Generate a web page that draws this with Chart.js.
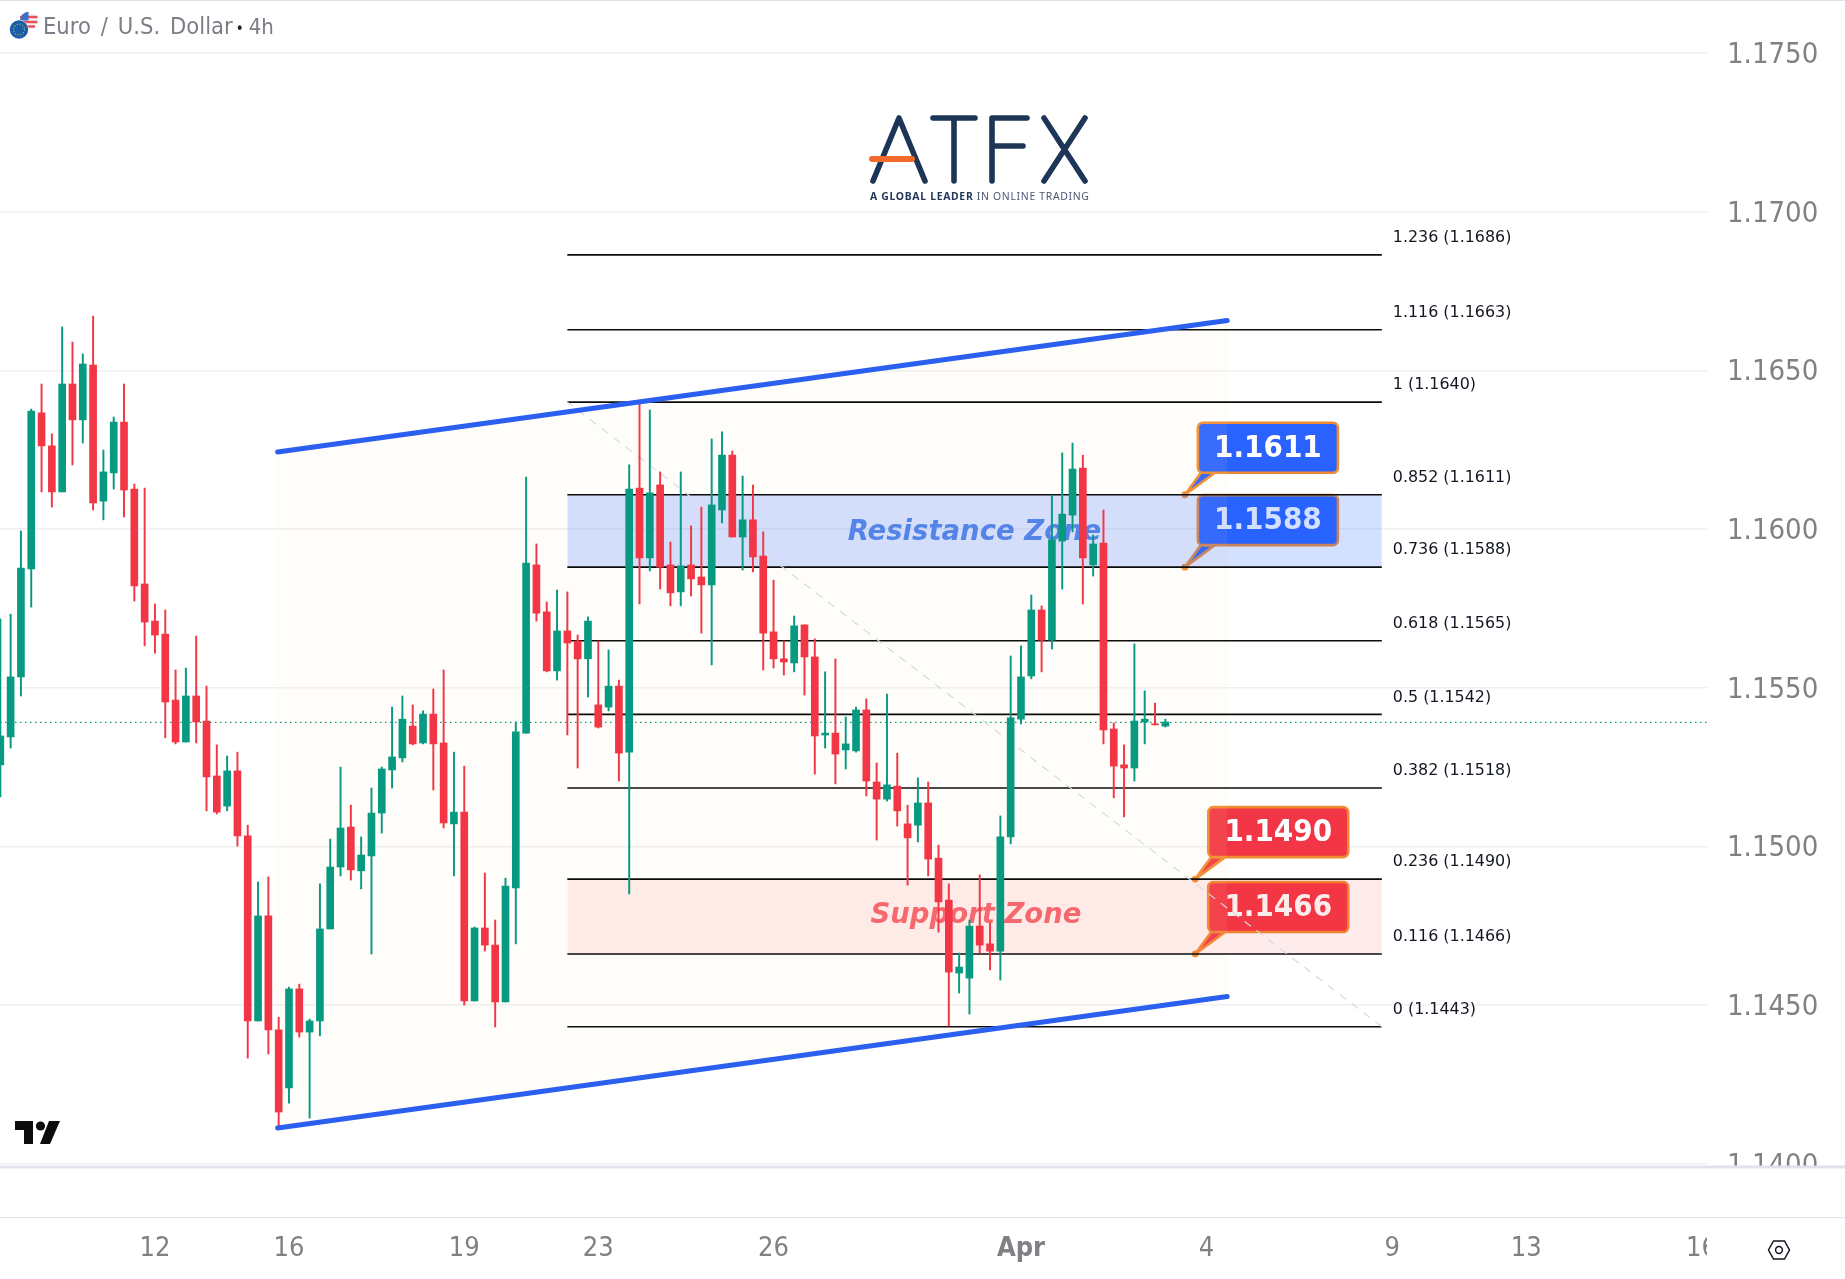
<!DOCTYPE html>
<html>
<head>
<meta charset="utf-8">
<title>Euro / U.S. Dollar 4h</title>
<script src="https://cdn.jsdelivr.net/npm/chart.js@4/dist/chart.umd.js"></script>
<style>
    html, body { margin: 0; padding: 0; background: #fff; }
    #wrap { position: relative; width: 1845px; height: 1279px; overflow: hidden; }
    #chart { position: absolute; left: 0; top: 0; }
    #title { position: absolute; left: 43px; top: 12px; font: 23.5px "DejaVu Sans Condensed", "DejaVu Sans"; word-spacing: 3.2px; color: #7b7e86; white-space: pre; }
    #title b { font-weight: normal; color: #222; font-size: 15px; margin: 0 5px 0 3px; }
    #title i { font-style: normal; font-size: 22px; }
    svg { position: absolute; left: 0; top: 0; pointer-events: none; }
    #logoSub { position: absolute; left: 870px; top: 189px; font: 10.4px "Noto Sans"; letter-spacing: 0.7px; color: #4a5670; white-space: pre; }
    #logoSub b { color: #22365a; }
</style>
</head>
<body>
<div id="wrap">
    <canvas id="chart" width="1845" height="1279"></canvas>
    <svg width="1845" height="1279">
        <circle cx="28.5" cy="20.5" r="8.8" fill="#f5f5f5"/>
        <path d="M20 17h17.5M20.5 22h17M23 26.5h12" stroke="#e8505b" stroke-width="2.4"/>
        <path d="M20 20.5 A8.8 8.8 0 0 1 28.5 11.7 V20.5 Z" fill="#3d6fc4"/>
        <circle cx="19" cy="30" r="10" fill="#fff"/>
        <circle cx="19" cy="29.5" r="9.2" fill="#1a5da8"/>
        <circle cx="19" cy="29.5" r="5.4" fill="none" stroke="#9fb35a" stroke-width="1.2" stroke-dasharray="1.2 1.6"/>

        <g fill="none" stroke="#1d3557" stroke-width="5.6" stroke-linecap="round" stroke-linejoin="round">
            <path d="M873 181 L899 118 L925 181"/>
            <path d="M933 118 H975 M954 118 V181"/>
            <path d="M992 181 V118 H1027 M992 146 H1023"/>
            <path d="M1044 118 L1085 181 M1085 118 L1044 181"/>
        </g>
        <path d="M872 159 H912" stroke="#f26b2b" stroke-width="6" stroke-linecap="round"/>

        <path d="M15 1121 H33 V1144 H24 V1130 H15 Z" fill="#0c0c0c"/>
        <circle cx="40.5" cy="1126" r="4.6" fill="#0c0c0c"/>
        <path d="M49 1121 H60 L50 1144 H40 Z" fill="#0c0c0c"/>

        <path d="M1768.5 1250 L1773.5 1241 H1784.5 L1789.5 1250 L1784.5 1259 H1773.5 Z" fill="none" stroke="#131722" stroke-width="1.5"/>
        <circle cx="1779" cy="1250" r="3.4" fill="none" stroke="#131722" stroke-width="1.5"/>
    </svg>
    <div id="title">Euro / U.S. Dollar<b>•</b><i>4h</i></div>
    <div id="logoSub"><b>A GLOBAL LEADER</b> IN ONLINE TRADING</div>
</div>
<script>
// 4h candles, oldest first
const opens = [1.15257,1.15345,1.15534,1.15874,1.16366,1.16262,1.16117,1.16457,1.16344,1.16517,1.16088,1.16177,1.16337,1.16126,1.15827,1.15710,1.15669,1.15461,1.15329,1.15474,1.15395,1.15222,1.15127,1.15238,1.15033,1.14450,1.14781,1.14422,1.14239,1.14551,1.14415,1.14450,1.14740,1.14935,1.15061,1.14923,1.14970,1.15105,1.15241,1.15279,1.15379,1.15326,1.15417,1.15326,1.15071,1.15108,1.14513,1.14743,1.14689,1.14510,1.14869,1.15357,1.15887,1.15739,1.15553,1.15679,1.15647,1.15591,1.15446,1.15439,1.15505,1.15297,1.16129,1.15909,1.16139,1.15887,1.15802,1.15887,1.15849,1.15824,1.16060,1.16233,1.15975,1.16029,1.15915,1.15676,1.15591,1.15578,1.15698,1.15597,1.15351,1.15357,1.15304,1.15301,1.15430,1.15203,1.15149,1.15190,1.15071,1.15067,1.15137,1.14963,1.14831,1.14601,1.14585,1.14749,1.14693,1.14670,1.15030,1.15401,1.15537,1.15745,1.15650,1.15962,1.16044,1.16192,1.15887,1.15956,1.15370,1.15257,1.15247,1.15392,1.15386,1.15379];
const highs = [1.15717,1.15732,1.15994,1.16378,1.16457,1.16300,1.16637,1.16589,1.16552,1.16671,1.16249,1.16353,1.16457,1.16142,1.16129,1.15764,1.15745,1.15556,1.15562,1.15663,1.15505,1.15320,1.15285,1.15297,1.15067,1.14888,1.14904,1.14462,1.14557,1.14566,1.14456,1.14882,1.15023,1.15250,1.15130,1.15030,1.15184,1.15250,1.15439,1.15474,1.15446,1.15427,1.15496,1.15556,1.15297,1.15253,1.14746,1.14916,1.14768,1.14900,1.15392,1.16164,1.15953,1.15770,1.15808,1.15802,1.15666,1.15723,1.15647,1.15619,1.15524,1.16202,1.16400,1.16375,1.16180,1.15959,1.16180,1.16010,1.16069,1.16284,1.16306,1.16246,1.16167,1.16139,1.15991,1.15839,1.15647,1.15726,1.15698,1.15654,1.15550,1.15591,1.15408,1.15439,1.15465,1.15263,1.15480,1.15294,1.15130,1.15216,1.15203,1.15004,1.14882,1.14664,1.14768,1.14910,1.14759,1.15096,1.15600,1.15632,1.15792,1.15758,1.16107,1.16240,1.16271,1.16233,1.15981,1.16060,1.15389,1.15320,1.15638,1.15490,1.15452,1.15401];
const lows = [1.15156,1.15310,1.15474,1.15754,1.16117,1.16069,1.16117,1.16202,1.16271,1.16060,1.16029,1.16126,1.16038,1.15773,1.15632,1.15609,1.15342,1.15323,1.15329,1.15326,1.15112,1.15102,1.15112,1.15001,1.14333,1.14450,1.14346,1.14116,1.14191,1.14399,1.14144,1.14403,1.14740,1.14907,1.14894,1.14866,1.14661,1.15042,1.15184,1.15266,1.15320,1.15323,1.15178,1.15058,1.14907,1.14500,1.14513,1.14670,1.14431,1.14510,1.14693,1.15357,1.15710,1.15550,1.15524,1.15351,1.15247,1.15471,1.15373,1.15427,1.15206,1.14850,1.15764,1.15868,1.15811,1.15758,1.15758,1.15789,1.15672,1.15572,1.16019,1.15975,1.15871,1.15865,1.15556,1.15562,1.15540,1.15550,1.15477,1.15228,1.15310,1.15197,1.15244,1.15297,1.15159,1.15020,1.15143,1.15064,1.14878,1.15014,1.14907,1.14730,1.14434,1.14538,1.14472,1.14664,1.14611,1.14579,1.15008,1.15386,1.15528,1.15550,1.15622,1.15811,1.15991,1.15764,1.15852,1.15323,1.15153,1.15093,1.15206,1.15323,1.15383,1.15376];
const closes = [1.15348,1.15534,1.15877,1.16372,1.16262,1.16117,1.16457,1.16344,1.16520,1.16082,1.16180,1.16337,1.16123,1.15821,1.15707,1.15666,1.15455,1.15329,1.15474,1.15392,1.15219,1.15108,1.15238,1.15033,1.14450,1.14781,1.14422,1.14163,1.14551,1.14415,1.14450,1.14740,1.14935,1.15058,1.14926,1.14973,1.15105,1.15244,1.15282,1.15401,1.15323,1.15417,1.15323,1.15074,1.15108,1.14513,1.14743,1.14689,1.14510,1.14875,1.15361,1.15893,1.15735,1.15553,1.15679,1.15641,1.15591,1.15710,1.15376,1.15505,1.15294,1.16126,1.15909,1.16114,1.15880,1.15799,1.15884,1.15843,1.15824,1.16076,1.16233,1.15975,1.16029,1.15912,1.15672,1.15591,1.15581,1.15695,1.15597,1.15348,1.15357,1.15291,1.15323,1.15430,1.15206,1.15149,1.15194,1.15112,1.15027,1.15137,1.14960,1.14825,1.14604,1.14620,1.14749,1.14689,1.14670,1.15030,1.15405,1.15534,1.15745,1.15650,1.15966,1.16047,1.16189,1.15909,1.15953,1.15367,1.15253,1.15247,1.15395,1.15401,1.15383,1.15392];

const lastPrice = 1.15391;

const priceTicks = [1.14, 1.145, 1.15, 1.155, 1.16, 1.165, 1.17, 1.175];
const timeTicks = [15, 28, 45, 58, 75, 99, 117, 135, 148, 165];
const timeLabels = ["12", "16", "19", "23", "26", "Apr", "4", "9", "13", "16"];

// fibonacci retracement drawn between bar 55 and bar 134
const fibRatios = ["0", "0.116", "0.236", "0.382", "0.5", "0.618", "0.736", "0.852", "1", "1.116", "1.236"];
const fibPrices = [1.14432, 1.14661, 1.14897, 1.15184, 1.15416, 1.15648, 1.1588, 1.16108, 1.164, 1.16628, 1.16864];
const fibTexts = ["1.1443", "1.1466", "1.1490", "1.1518", "1.1542", "1.1565", "1.1588", "1.1611", "1.1640", "1.1663", "1.1686"];
const fibStart = 55;
const fibEnd = 134;

// rising channel
const channelBars = [26.9, 119];
const channelTop = [1.16243, 1.16657];
const channelBottom = [1.14113, 1.14527];

const calloutTexts = ["1.1611", "1.1588", "1.1490", "1.1466"];
const calloutPrices = [1.16108, 1.1588, 1.14897, 1.14661];
const calloutBars = [114.9, 114.9, 115.9, 115.9];
const calloutColors = ["#2962ff", "#2962ff", "#f23645", "#f23645"];

const GREEN = "#089981";
const RED = "#f23645";
const candleColors = opens.map((o, i) => (closes[i] >= o ? GREEN : RED));

function flatLine(price, start, end, extra) {
    return Object.assign({
        type: "line",
        data: [{ x: start, y: price }, { x: end, y: price }],
        borderColor: "#0c0c0c",
        borderWidth: 1.6,
        pointRadius: 0,
        fill: false,
        order: 6,
    }, extra);
}

const datasets = [
    {
        label: "body",
        data: opens.map((o, i) => ({ x: i, y: [o, closes[i]] })),
        backgroundColor: candleColors,
        barThickness: 7,
        minBarLength: 1,
        grouped: false,
        order: 2,
    },
    {
        label: "wick",
        data: highs.map((h, i) => ({ x: i, y: [lows[i], h] })),
        backgroundColor: candleColors,
        barThickness: 1.3,
        grouped: false,
        order: 3,
    },
];

// fib levels, the two zones fill between neighbouring levels
const fibIndex = datasets.length;
fibPrices.forEach((p, i) => {
    const extra = {};
    if (i === 2) extra.fill = { target: fibIndex + 1 }, extra.backgroundColor = "rgba(242,54,69,0.1)";
    if (i === 7) extra.fill = { target: fibIndex + 6 }, extra.backgroundColor = "rgba(41,98,255,0.2)";
    datasets.push(flatLine(p, fibStart, fibEnd, extra));
});

datasets.push(
    {
        type: "line",
        data: [{ x: fibEnd, y: fibPrices[0] }, { x: fibStart, y: fibPrices[8] }],
        borderColor: "#d9d9d9",
        borderWidth: 1.2,
        borderDash: [8, 7],
        pointRadius: 0,
        order: 5,
    },
    flatLine(lastPrice, -1, 170, { borderColor: GREEN, borderWidth: 1.2, borderDash: [1.5, 3.5], order: 5 }),
);

// channel fill first, then the two blue lines on top of the candles
const channelIndex = datasets.length;
datasets.push(
    {
        type: "line",
        data: channelBars.map((b, i) => ({ x: b, y: channelTop[i] })),
        borderWidth: 0,
        pointRadius: 0,
        fill: { target: channelIndex + 1 },
        backgroundColor: "rgba(255,235,180,0.08)",
        order: 9,
    },
    {
        type: "line",
        data: channelBars.map((b, i) => ({ x: b, y: channelBottom[i] })),
        borderWidth: 0,
        pointRadius: 0,
        order: 9,
    },
);
[channelTop, channelBottom].forEach((vals) => {
    datasets.push({
        type: "line",
        data: channelBars.map((b, i) => ({ x: b, y: vals[i] })),
        borderColor: "#2a5fef",
        borderWidth: 5,
        borderCapStyle: "round",
        pointRadius: 0,
        order: 1,
    });
});

const underlay = {
    id: "underlay",
    // callouts sit under the tints, so the zones wash them out like in TV
    beforeDatasetsDraw(chart) {
        const c = chart.ctx;
        const x = chart.scales.x;
        const y = chart.scales.y;
        const orange = "#f08a30";

        calloutTexts.forEach((text, i) => {
            const ax = x.getPixelForValue(calloutBars[i]);
            const ay = y.getPixelForValue(calloutPrices[i]);
            const left = ax + 13;
            const top = ay - 22 - 50;

            c.save();
            c.beginPath();
            c.moveTo(ax, ay);
            c.lineTo(left + 3, top + 50);
            c.lineTo(left + 17, top + 50);
            c.closePath();
            c.fillStyle = calloutColors[i];
            c.strokeStyle = orange;
            c.lineWidth = 2.6;
            c.lineJoin = "round";
            c.fill();
            c.stroke();

            c.beginPath();
            c.roundRect(left, top, 140, 50, 5);
            c.fillStyle = calloutColors[i];
            c.fill();
            c.stroke();

            c.beginPath();
            c.arc(ax, ay, 3.4, 0, Math.PI * 2);
            c.fillStyle = orange;
            c.fill();

            c.fillStyle = "#fff";
            c.font = 'bold 31px "DejaVu Sans Condensed", "DejaVu Sans"';
            c.textAlign = "center";
            c.textBaseline = "middle";
            c.fillText(text, left + 70, top + 26);
            c.restore();
        });

        c.save();
        c.font = 'italic bold 27.5px "DejaVu Sans"';
        c.textAlign = "left";
        c.textBaseline = "middle";
        c.fillStyle = "#5285e6";
        c.fillText("Resistance Zone", x.getPixelForValue(82.2), y.getPixelForValue(1.15987));
        c.fillStyle = "#f5646e";
        c.fillText("Support Zone", x.getPixelForValue(84.4), y.getPixelForValue(1.1478));
        c.restore();
    },
    afterDraw(chart) {
        const c = chart.ctx;
        const x = chart.scales.x;
        const y = chart.scales.y;

        c.save();
        c.font = '15.9px "DejaVu Sans"';
        c.fillStyle = "#131722";
        c.textAlign = "left";
        c.textBaseline = "middle";
        fibPrices.forEach((p, i) => {
            c.fillText(`${fibRatios[i]} (${fibTexts[i]})`, x.getPixelForValue(fibEnd) + 11, y.getPixelForValue(p) - 17);
        });

        // tick labels get cut off at the pane edges
        c.fillStyle = "#fff";
        c.fillRect(x.right, y.bottom, chart.width - x.right, 50);
        c.fillRect(x.right, y.bottom + 52, chart.width - x.right, chart.height);

        c.fillStyle = "#e0e3eb";
        c.fillRect(0, y.bottom - 0.5, chart.width, 3);
        c.fillRect(0, y.bottom + 51, chart.width, 1.2);
        c.fillRect(0, 0, chart.width, 1);
        c.restore();
    },
};

new Chart(document.getElementById("chart"), {
    type: "bar",
    data: { datasets },
    plugins: [underlay],
    options: {
        responsive: false,
        animation: false,
        devicePixelRatio: 1,
        layout: { padding: 0 },
        plugins: {
            legend: { display: false },
            tooltip: { enabled: false },
        },
        scales: {
            x: {
                type: "linear",
                offset: false,
                min: -0.03,
                max: 165.54,
                grid: { display: false },
                border: { display: false },
                afterBuildTicks: (axis) => {
                    axis.ticks = timeTicks.map((v) => ({ value: v }));
                },
                afterFit: (axis) => {
                    axis.height = 113;
                    axis.paddingLeft = 0;
                    axis.paddingRight = 0;
                },
                ticks: {
                    autoSkip: false,
                    maxRotation: 0,
                    padding: 59,
                    color: "#7f8185",
                    font: (ctx) => ({
                        family: '"DejaVu Sans Condensed", "DejaVu Sans"',
                        size: 27,
                        weight: timeLabels[ctx.index] === "Apr" ? "bold" : "normal",
                    }),
                    callback: (v, i) => timeLabels[i],
                },
            },
            y: {
                position: "right",
                min: 1.13993,
                max: 1.17667,
                border: { display: false },
                grid: { color: "#f0f0f2", lineWidth: 1.4, drawTicks: false },
                afterBuildTicks: (axis) => {
                    axis.ticks = priceTicks.map((v) => ({ value: v }));
                },
                afterFit: (axis) => {
                    axis.width = 138;
                    axis.paddingTop = 0;
                    axis.paddingBottom = 0;
                },
                ticks: {
                    autoSkip: false,
                    padding: 20,
                    labelOffset: 2.5,
                    color: "#7f8185",
                    font: { family: '"DejaVu Sans Condensed", "DejaVu Sans"', size: 29 },
                    callback: (v) => v.toFixed(4),
                },
            },
        },
    },
});
</script>
</body>
</html>
